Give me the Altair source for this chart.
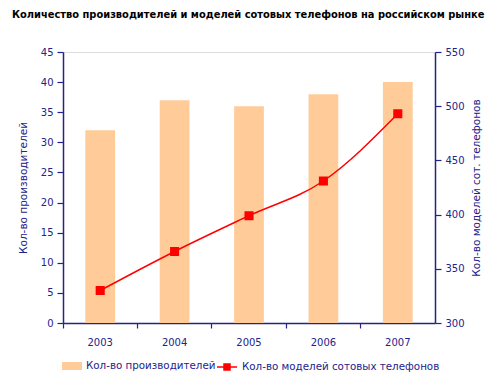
import altair as alt
import pandas as pd

years = ["2003", "2004", "2005", "2006", "2007"]
makers = [32, 37, 36, 38, 40]
models = [330, 366, 399, 431, 493]
s1 = "Кол-во производителей"
s2 = "Кол-во моделей сотовых телефонов"
title = "Количество производителей и моделей сотовых телефонов на российском рынке"
left_ticks = [0, 5, 10, 15, 20, 25, 30, 35, 40, 45]
right_ticks = [300, 350, 400, 450, 500, 550]

df = pd.DataFrame({"year": years, "makers": makers, "models": models, "s1": s1, "s2": s2})

navy = "#23238c"
peach = "#FFCC99"
red = "#FF0000"
font = "DejaVu Sans"
W, H = 372, 271

x = alt.X(
    "year:N", title=None,
    scale=alt.Scale(paddingInner=0, paddingOuter=0),
    axis=alt.Axis(labelAngle=0, bandPosition=0, domainColor=navy, tickColor=navy,
                  labelColor=navy, labelFontSize=10, labelPadding=9, tickSize=5,
                  domainWidth=1.5, tickWidth=1.2),
)

bars = alt.Chart(df).mark_bar(color=peach, width=alt.RelativeBandSize(0.4)).encode(
    x=x,
    y=alt.Y("makers:Q", scale=alt.Scale(domain=[0, 45]),
            axis=alt.Axis(orient="left", values=left_ticks, title="Кол-во производителей",
                          grid=False, domainColor=navy, tickColor=navy, labelColor=navy,
                          titleColor=navy, titleFontWeight="normal", titleFontSize=10.5,
                          labelFontSize=10, tickSize=6, labelPadding=4, titlePadding=12,
                          domainWidth=1.5, tickWidth=1.2)),
    color=alt.Color("s1:N", scale=alt.Scale(range=[peach]),
                    legend=alt.Legend(title=None, orient="none", legendX=-1, legendY=H + 33,
                                      symbolType="M-1,-0.4H1V0.4H-1Z", symbolSize=400,
                                      symbolStrokeWidth=0, labelLimit=300)),
)

line = alt.Chart(df).mark_line(
    interpolate="monotone", strokeWidth=1.5,
    point=alt.OverlayMarkDef(shape="square", filled=True, size=50, color=red, opacity=1),
).encode(
    x=x,
    y=alt.Y("models:Q", scale=alt.Scale(domain=[300, 550]),
            axis=alt.Axis(orient="right", values=right_ticks, title="Кол-во моделей сот. телефонов",
                          grid=False, domainColor=navy, tickColor=navy, labelColor=navy,
                          titleColor=navy, titleFontWeight="normal", titleFontSize=10.5,
                          titleAngle=270, labelFontSize=10, tickSize=6, labelPadding=4,
                          titlePadding=17, domainWidth=1.5, tickWidth=1.2)),
    stroke=alt.Stroke("s2:N", scale=alt.Scale(range=[red]),
                      legend=alt.Legend(title=None, orient="none", legendX=153, legendY=H + 33,
                                        symbolType="M-1,0H1M-0.3,-0.3H0.3V0.3H-0.3Z",
                                        symbolSize=400, symbolFillColor=red,
                                        symbolStrokeWidth=1.5, labelLimit=300)),
)

chart = alt.layer(bars, line).resolve_scale(y="independent", color="independent").properties(
    width=W, height=H,
    title=alt.TitleParams(title, anchor="start", frame="group", font=font, fontSize=9.9,
                          fontWeight="bold", color="black", offset=27, dx=-51),
    padding={"left": 4, "top": 2, "right": 0, "bottom": 0},
).configure_view(stroke=None).configure(font=font).configure_legend(
    labelColor=navy, labelFontSize=10.3, labelFont=font
)

chart.save("out.html", embed_options={"renderer": "svg", "actions": False})
